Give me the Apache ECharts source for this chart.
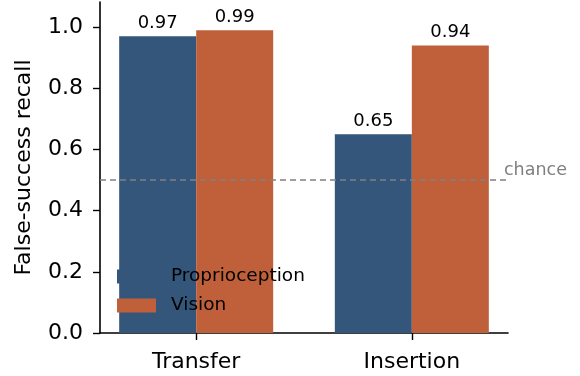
<!DOCTYPE html>
<html>
<head>
<meta charset="utf-8">
<script src="https://cdn.jsdelivr.net/npm/echarts@6/dist/echarts.min.js"></script>
<style>
  html, body { margin: 0; padding: 0; background: #fff; }
  #container { width: 580px; height: 376px; }
</style>
</head>
<body>
<div id="container"></div>
<script>
var dom = document.getElementById('container');
var myChart = echarts.init(dom, null, { renderer: 'canvas' });

// data
let tasks = ['Transfer', 'Insertion'];
let proprioception = [0.97, 0.65];
let vision = [0.99, 0.94];
let chanceLevel = 0.5;
let yTicks = [0, 0.2, 0.4, 0.6, 0.8, 1.0];

let font = 'DejaVu Sans';
let taskPos = tasks.map(function (t, i) { return i; });

function toPairs(vals) {
    return vals.map(function (v, i) { return [i, v]; });
}

var option = {
    animation: false,
    textStyle: { fontFamily: font },
    grid: { left: 100, right: 72, top: 2, bottom: 43 },
    legend: {
        orient: 'vertical',
        left: 117,
        top: 267,
        padding: 0,
        itemWidth: 39,
        itemHeight: 14,
        itemGap: 10,
        icon: 'rect',
        textStyle: {
            fontFamily: font,
            fontSize: 18.5,
            color: '#000',
            padding: [0, 0, 0, 10]
        },
        data: ['Proprioception', 'Vision']
    },
    xAxis: {
        type: 'value',
        min: -0.446,
        max: 1.446,
        splitLine: { show: false },
        axisLine: { show: true, onZero: false, lineStyle: { color: '#000', width: 1.6 } },
        axisTick: {
            show: true,
            customValues: taskPos,
            length: 7,
            lineStyle: { color: '#000', width: 1.4 }
        },
        axisLabel: {
            customValues: taskPos,
            margin: 18,
            fontSize: 22,
            color: '#000',
            formatter: function (v) { return tasks[Math.round(v)]; }
        }
    },
    yAxis: {
        type: 'value',
        min: 0,
        max: 1.082,
        name: 'False-success recall',
        nameLocation: 'middle',
        nameGap: 65,
        nameTextStyle: { fontFamily: font, fontSize: 22, color: '#000' },
        splitLine: { show: false },
        axisLine: { show: true, onZero: false, lineStyle: { color: '#000', width: 1.6 } },
        axisTick: {
            show: true,
            customValues: yTicks,
            length: 7,
            lineStyle: { color: '#000', width: 1.4 }
        },
        axisLabel: {
            customValues: yTicks,
            margin: 17,
            fontSize: 22,
            color: '#000',
            formatter: function (v) { return v.toFixed(1); }
        }
    },
    series: [
        {
            name: 'Proprioception',
            type: 'bar',
            barWidth: 77,
            barGap: '0%',
            itemStyle: { color: '#34567a' },
            label: {
                show: true,
                position: 'top',
                distance: 4,
                fontSize: 18,
                color: '#000',
                formatter: function (p) { return p.value[1].toFixed(2); }
            },
            data: toPairs(proprioception),
            markLine: {
                silent: true,
                symbol: 'none',
                lineStyle: { color: '#808080', type: [6, 4], width: 1.5 },
                label: {
                    show: true,
                    position: 'end',
                    formatter: 'chance',
                    color: '#808080',
                    fontSize: 17.5,
                    distance: [-4, 0],
                    offset: [0, -10]
                },
                data: [{ yAxis: chanceLevel }]
            }
        },
        {
            name: 'Vision',
            type: 'bar',
            barWidth: 77,
            barGap: '0%',
            itemStyle: { color: '#c0603a' },
            label: {
                show: true,
                position: 'top',
                distance: 4,
                fontSize: 18,
                color: '#000',
                formatter: function (p) { return p.value[1].toFixed(2); }
            },
            data: toPairs(vision)
        }
    ]
};

myChart.setOption(option);
window.addEventListener('resize', myChart.resize);
</script>
</body>
</html>
